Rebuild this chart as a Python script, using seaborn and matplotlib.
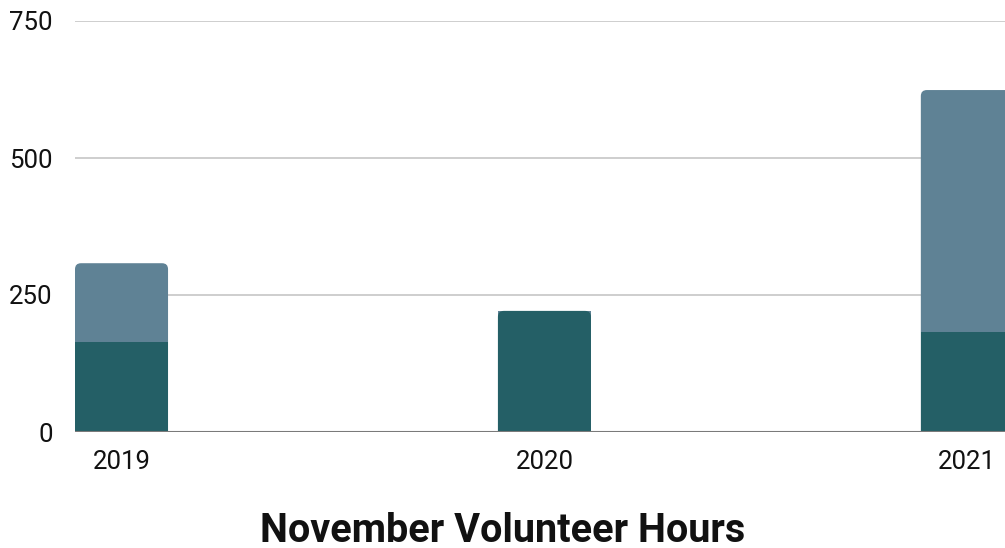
import matplotlib
matplotlib.use("Agg")
import matplotlib.pyplot as plt
import seaborn as sns
from matplotlib.patches import FancyBboxPatch

# ========== data ==========
years = ["2019", "2020", "2021"]
hours_base = [164, 221, 182]     # dark segment
hours_extra = [144, 0, 442]      # light segment stacked on top
totals = [b + e for b, e in zip(hours_base, hours_extra)]
y_ticks = [0, 250, 500, 750]

dark = "#245F66"
light = "#5F8295"

sns.set_theme(style="white")
plt.rcParams["font.family"] = ["Roboto", "DejaVu Sans"]

fig = plt.figure(figsize=(10.05, 5.48), dpi=100)
ax = fig.add_axes([75 / 1005, 116 / 548, 930 / 1005, 411 / 548])

sns.barplot(x=years, y=totals, color=light, width=0.22, saturation=1,
            linewidth=0, ax=ax)
sns.barplot(x=years, y=hours_base, color=dark, width=0.22, saturation=1,
            linewidth=0, ax=ax)

# round the top corners of the visible stack tops
px_x = 423.0          # pixels per category
px_y = 411 / 750      # pixels per unit
r = 6 / px_x
aspect = (6 / px_y) / r
patches = list(ax.patches)
n = len(years)
for i, p in enumerate(patches):
    p.set_zorder(2)
    is_top = (i < n and hours_extra[i] > 0) or (i >= n and hours_extra[i - n] == 0)
    if not is_top:
        continue
    x0, w, h = p.get_x(), p.get_width(), p.get_height()
    fc = p.get_facecolor()
    zo = 1.5 if i < n else 2
    p.set_visible(False)
    fb = FancyBboxPatch((x0, -30), w, h + 30,
                        boxstyle=f"round,pad=0,rounding_size={r}",
                        mutation_aspect=aspect, facecolor=fc,
                        edgecolor="none", zorder=zo)
    ax.add_patch(fb)

ax.set_xlim(-0.11, 2.089)
ax.set_ylim(0, 750)
ax.set_yticks(y_ticks)
ax.set_yticklabels([str(t) for t in y_ticks])
ax.yaxis.grid(True, color="#C6C6C6", linewidth=1.2, zorder=0.5)
ax.set_axisbelow(True)
ax.axhline(0, color="#7a7a7a", linewidth=1.5, zorder=5)
for s in ax.spines.values():
    s.set_visible(False)
ax.tick_params(axis="y", length=0, pad=16, labelsize=18.5, labelcolor="#111111")
ax.tick_params(axis="x", length=0, pad=13, labelsize=18.5, labelcolor="#111111")
ax.set_xlabel("")
ax.set_ylabel("")

fig.text(503 / 1005, 17 / 548, "November Volunteer Hours", ha="center", va="center",
         fontsize=28.5, fontweight="bold", color="#111111")

fig.savefig("out.png", dpi=100)
